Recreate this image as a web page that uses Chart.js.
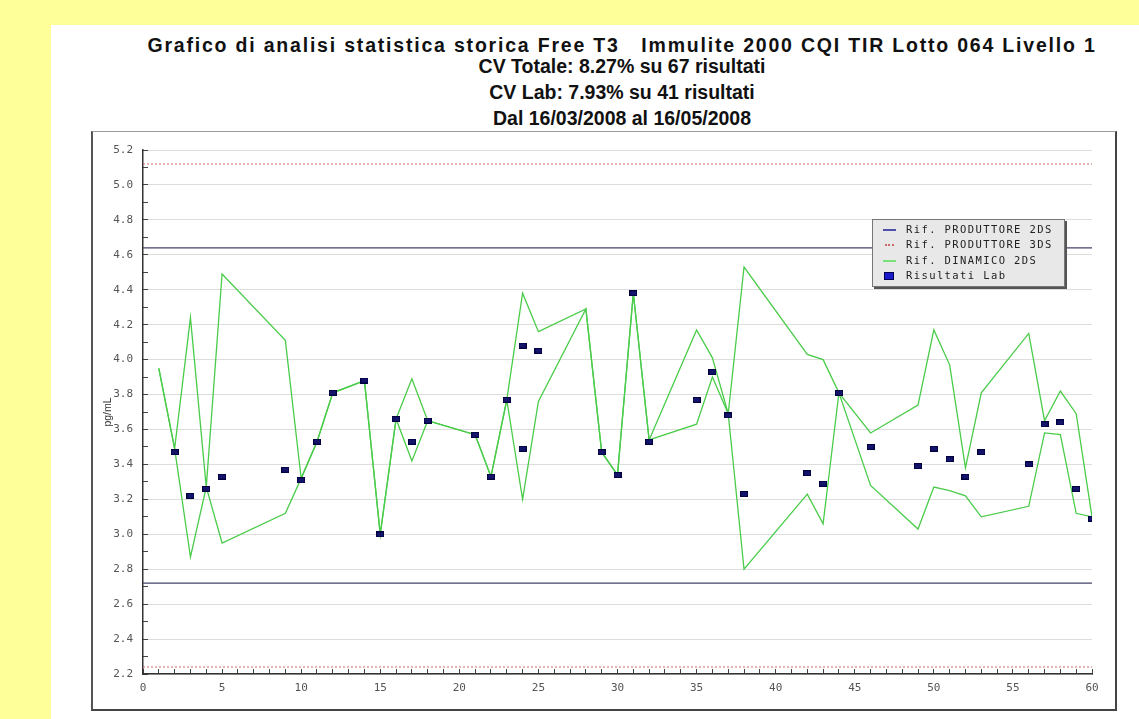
<!DOCTYPE html>
<html>
<head>
<meta charset="utf-8">
<script src="https://cdn.jsdelivr.net/npm/chart.js@4.4.1/dist/chart.umd.min.js"></script>
<style>
  html, body { margin: 0; padding: 0; }
  body { width: 1139px; height: 719px; background: #ffff99; overflow: hidden; position: relative; }
  #panel { position: absolute; left: 51px; top: 25px; right: 0; bottom: 0; background: #fff; }
  #frame { position: absolute; left: 91px; top: 131px; width: 1022px; height: 577px;
           border: 1px solid #999; border-right: 2px solid #444; border-bottom: 2px solid #444; border-left: 2px solid #555; }
  .ttl { position: absolute; left: 72px; width: 1100px; text-align: center; font-family: "Liberation Sans", Arial, sans-serif;
         font-size: 19.5px; line-height: 22px; color: #111; white-space: pre; font-weight: bold; }
  canvas { position: absolute; left: 0; top: 0; }
  #legend { position: absolute; left: 872px; top: 219px; width: 191px; height: 64px; background: #e8e8e8;
            border: 1px solid #777; box-shadow: 2px 2px 0 #555; padding-top: 2px; box-sizing: content-box; }
  .row { height: 15.4px; position: relative; font-family: "DejaVu Sans Mono", monospace; font-size: 10.5px;
         letter-spacing: 1.4px; color: #222; line-height: 15.4px; padding-left: 33px; white-space: pre; }
  .sym { position: absolute; left: 10px; top: 7px; width: 13px; height: 0; }
</style>
</head>
<body>
<div id="panel"></div>
<div id="frame"></div>
<div class="ttl" style="top:34px; letter-spacing:1.8px">Grafico di analisi statistica storica Free T3   Immulite 2000 CQI TIR Lotto 064 Livello 1</div>
<div class="ttl" style="top:55px">CV Totale: 8.27% su 67 risultati</div>
<div class="ttl" style="top:81px">CV Lab: 7.93% su 41 risultati</div>
<div class="ttl" style="top:107px">Dal 16/03/2008 al 16/05/2008</div>
<canvas id="grafico" width="1139" height="719"></canvas>
<div id="legend"></div>
<script>
// limiti del produttore (2DS e 3DS)
const produttore2DS = [4.64, 2.72];
const produttore3DS = [5.12, 2.24];
const asseX = [0, 60];

// banda dinamica 2DS
const bandaX = [1, 2, 3, 4, 5, 9, 10, 11, 12, 14, 15, 16, 17, 18, 21, 22, 23, 24, 25, 28, 29, 30, 31, 32, 35, 36, 37, 38, 42, 43, 44, 46, 49, 50, 51, 52, 53, 56, 57, 58, 59, 60];
const bandaSup = [3.95, 3.49, 4.24, 3.27, 4.49, 4.11, 3.32, 3.53, 3.81, 3.88, 3.00, 3.66, 3.89, 3.65, 3.57, 3.33, 3.77, 4.38, 4.16, 4.29, 3.47, 3.34, 4.38, 3.54, 4.17, 4.01, 3.69, 4.53, 4.03, 4.00, 3.81, 3.58, 3.74, 4.17, 3.97, 3.38, 3.81, 4.15, 3.65, 3.82, 3.69, 3.10];
const bandaInf = [3.95, 3.49, 2.87, 3.27, 2.95, 3.12, 3.32, 3.53, 3.81, 3.88, 3.00, 3.66, 3.42, 3.65, 3.57, 3.33, 3.77, 3.20, 3.76, 4.29, 3.47, 3.34, 4.38, 3.54, 3.63, 3.90, 3.69, 2.80, 3.23, 3.06, 3.81, 3.28, 3.03, 3.27, 3.25, 3.22, 3.10, 3.16, 3.58, 3.57, 3.12, 3.10];

// risultati del laboratorio
const labX = [2, 3, 4, 5, 9, 10, 11, 12, 14, 15, 16, 17, 18, 21, 22, 23, 24, 24, 25, 29, 30, 31, 32, 35, 36, 37, 38, 42, 43, 44, 46, 49, 50, 51, 52, 53, 56, 57, 58, 59, 60];
const labY = [3.47, 3.22, 3.26, 3.33, 3.37, 3.31, 3.53, 3.81, 3.88, 3.00, 3.66, 3.53, 3.65, 3.57, 3.33, 3.77, 4.08, 3.49, 4.05, 3.47, 3.34, 4.38, 3.53, 3.77, 3.93, 3.68, 3.23, 3.35, 3.29, 3.81, 3.50, 3.39, 3.49, 3.43, 3.33, 3.47, 3.40, 3.63, 3.64, 3.26, 3.09];

const yMin = 2.2, yMax = 5.2;

function orizzontale(v) {
    return asseX.map(x => ({ x: x, y: v }));
}
function coppie(xs, ys) {
    return xs.map((x, i) => ({ x: x, y: ys[i] }));
}

// marcatore rettangolare dei risultati
const marcatore = document.createElement('canvas');
marcatore.width = 8;
marcatore.height = 6;
const mc = marcatore.getContext('2d');
mc.fillStyle = '#000040';
mc.fillRect(0, 0, 8, 6);
mc.fillStyle = '#14146a';
mc.fillRect(1, 1, 6, 4);

const colBlu = '#45456a';
const colRosso = '#c86a6a';
const colVerde = '#4acc4a';

const datasets = [
    { label: 'Risultati Lab', data: coppie(labX, labY), showLine: false, pointStyle: marcatore,
      pointRadius: 4, borderColor: '#000050', backgroundColor: '#1a1acc', order: 0 },
    { label: 'Rif. DINAMICO 2DS', data: coppie(bandaX, bandaSup), borderColor: colVerde, borderWidth: 1.3, order: 1 },
    { data: coppie(bandaX, bandaInf), borderColor: colVerde, borderWidth: 1.3, order: 1 },
    { label: 'Rif. PRODUTTORE 2DS', data: orizzontale(produttore2DS[0]), borderColor: colBlu, borderWidth: 1.3, order: 2 },
    { data: orizzontale(produttore2DS[1]), borderColor: colBlu, borderWidth: 1.3, order: 2 },
    { label: 'Rif. PRODUTTORE 3DS', data: orizzontale(produttore3DS[0]), borderColor: colRosso, borderWidth: 1, borderDash: [2, 2], order: 2 },
    { data: orizzontale(produttore3DS[1]), borderColor: colRosso, borderWidth: 1, borderDash: [2, 2], order: 2 }
];

const fontTick = { family: 'DejaVu Sans Mono', size: 11 };

const chart = new Chart(document.getElementById('grafico'), {
    type: 'line',
    data: { datasets: datasets },
    options: {
        responsive: false,
        animation: false,
        layout: { padding: { left: 100, right: 47, top: 150, bottom: 20 } },
        elements: { point: { radius: 0 }, line: { tension: 0, fill: false } },
        plugins: { legend: { display: false }, tooltip: { enabled: false } },
        scales: {
            x: {
                type: 'linear', min: 0, max: 60,
                afterFit: s => { s.height = 25; },
                ticks: {
                    stepSize: 1, autoSkip: false, maxRotation: 0, padding: 13,
                    color: '#555', font: fontTick,
                    callback: v => (v % 5 === 0 ? String(v) : '')
                },
                grid: { drawOnChartArea: false, tickLength: -5, tickColor: '#444' },
                border: { color: '#333', width: 1.5 }
            },
            y: {
                min: yMin, max: yMax,
                afterFit: s => { s.width = 43; },
                title: { display: true, text: 'pg/mL', color: '#333', padding: { top: 2, bottom: 0 },
                         font: { family: 'Liberation Sans', size: 10.5 } },
                ticks: {
                    stepSize: 0.1, padding: 15, color: '#555', font: fontTick,
                    callback: v => (Math.round(v * 10) % 2 === 0 ? v.toFixed(1) : '')
                },
                grid: {
                    tickLength: -5, tickColor: '#444',
                    color: c => (c.tick && Math.round(c.tick.value * 10) % 2 === 0 ? '#dddddd' : 'rgba(0,0,0,0)')
                },
                border: { color: '#333', width: 1.5 }
            }
        }
    }
});

// legenda costruita dai dataset
const ordine = ['Rif. PRODUTTORE 2DS', 'Rif. PRODUTTORE 3DS', 'Rif. DINAMICO 2DS', 'Risultati Lab'];
const legenda = document.getElementById('legend');
ordine.forEach(nome => {
    const ds = chart.data.datasets.find(d => d.label === nome);
    const riga = document.createElement('div');
    riga.className = 'row';
    riga.textContent = nome;
    const sym = document.createElement('span');
    sym.className = 'sym';
    if (ds.showLine === false) {
        sym.style.cssText = 'top:4px;left:11px;width:8px;height:6px;background:' + ds.backgroundColor + ';border:1px solid ' + ds.borderColor;
    } else if (ds.borderDash) {
        sym.style.cssText = 'width:9px;left:12px;border-top:2px dotted ' + ds.borderColor;
    } else {
        sym.style.cssText = 'border-top:2px solid ' + (nome.indexOf('PRODUTTORE') >= 0 ? '#5050a8' : '#7ae07a');
    }
    riga.appendChild(sym);
    legenda.appendChild(riga);
});
</script>
</body>
</html>
